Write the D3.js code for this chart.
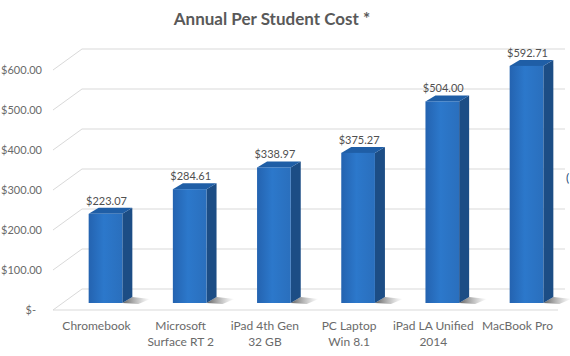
<!DOCTYPE html>
<html><head><meta charset="utf-8">
<script src="https://cdn.jsdelivr.net/npm/d3@7"></script>
<style>body{margin:0;background:#fff;} svg{display:block;font-family:Lato,"Open Sans",sans-serif;}</style>
</head><body>
<script>
const categories = [["Chromebook"],["Microsoft","Surface RT 2"],["iPad 4th Gen","32 GB"],["PC Laptop","Win 8.1"],["iPad LA Unified","2014"],["MacBook Pro"]];
const values = [223.07, 284.61, 338.97, 375.27, 504.00, 592.71];
const valueLabels = ["$223.07","$284.61","$338.97","$375.27","$504.00","$592.71"];
const tickValues = [0,100,200,300,400,500,600];
const tickLabels = ["$-","$100.00","$200.00","$300.00","$400.00","$500.00","$600.00"];
const title = "Annual Per Student Cost *";

const W=570,H=356;
const svg=d3.select("body").append("svg").attr("width",W).attr("height",H);
const defs=svg.append("defs");
const gF=defs.append("linearGradient").attr("id","front").attr("x1",0).attr("x2",1).attr("y1",0).attr("y2",0);
gF.append("stop").attr("offset","0").attr("stop-color","#2463b0");
gF.append("stop").attr("offset","0.45").attr("stop-color","#2c78cb");
gF.append("stop").attr("offset","1").attr("stop-color","#2a6fbd");
const gS=defs.append("linearGradient").attr("id","shadow").attr("x1",0).attr("x2",1).attr("y1",0).attr("y2",0);
gS.append("stop").attr("offset","0").attr("stop-color","#444").attr("stop-opacity",0.85);
gS.append("stop").attr("offset","1").attr("stop-color","#888").attr("stop-opacity",0);

const keys=categories.map(c=>c.join(" "));
const y=d3.scaleLinear().domain([0,600]).range([303,63]);
const x=d3.scaleBand().domain(keys).range([63.4,568.6]).paddingInner(0.6).paddingOuter(0.3);
const yF=v=>y(v)+7, yB=v=>y(v)-14;
const xF=53, xB=82;
const grid="#d9d9d9";

tickValues.forEach(v=>{
  svg.append("line").attr("x1",xB).attr("x2",565).attr("y1",yB(v)).attr("y2",yB(v)).attr("stroke",grid).attr("stroke-width",1);
  svg.append("line").attr("x1",xF).attr("x2",xB).attr("y1",yF(v)).attr("y2",yB(v)).attr("stroke",grid).attr("stroke-width",1);
});
svg.append("line").attr("x1",xF).attr("x2",558).attr("y1",yF(0)).attr("y2",yF(0)).attr("stroke",grid);

svg.append("g").selectAll("text").data(tickValues).join("text")
  .attr("x",(d,i)=>i===0?36:42).attr("y",d=>yF(d)+4).attr("text-anchor","end")
  .attr("font-size",11).attr("fill","#6a6a6a").text((d,i)=>tickLabels[i]);

const dx=10, dy=-6, w=x.bandwidth();
const bars=svg.append("g").selectAll("g").data(values).join("g");
bars.append("path").attr("d",(d,i)=>{const x0=x(keys[i])+w; const b=y(0);
  return `M${x0},${b} L${x0+dx},${b+dy} L${x0+dx+18},${b-4} L${x0+16},${b+1} Z`;})
  .attr("fill","url(#shadow)");
bars.append("path").attr("d",(d,i)=>{const x0=x(keys[i])+w, t=y(d), b=y(0);
  return `M${x0},${t} L${x0+dx},${t+dy} L${x0+dx},${b+dy} L${x0},${b} Z`;}).attr("fill","#1c4d85");
bars.append("path").attr("d",(d,i)=>{const x0=x(keys[i]), t=y(d);
  return `M${x0},${t} L${x0+w},${t} L${x0+w+dx},${t+dy} L${x0+dx},${t+dy} Z`;}).attr("fill","#1f5ea6");
bars.append("rect").attr("x",(d,i)=>x(keys[i])).attr("y",d=>y(d)).attr("width",w).attr("height",d=>y(0)-y(d)).attr("fill","url(#front)");
bars.append("text").attr("x",(d,i)=>x(keys[i])+w/2+1).attr("y",d=>y(d)-9).attr("text-anchor","middle")
  .attr("font-size",11).attr("fill","#505050").text((d,i)=>valueLabels[i]);

const cl=svg.append("g").selectAll("text").data(categories).join("text")
  .attr("x",(d,i)=>x(keys[i])+w/2-9).attr("y",330).attr("text-anchor","middle")
  .attr("font-size",12).attr("fill","#6a6a6a");
cl.selectAll("tspan").data(d=>d).join("tspan").attr("x",function(){return d3.select(this.parentNode).attr("x");})
  .attr("dy",(d,i)=>i===0?0:16).text(d=>d);

svg.append("text").attr("x",272).attr("y",25).attr("text-anchor","middle").attr("font-size",17)
  .attr("font-weight","bold").attr("fill","#595959").text(title);
svg.append("text").attr("x",566).attr("y",182).attr("font-size",12).attr("fill","#1f4e79").text("(");
</script>
</body></html>
